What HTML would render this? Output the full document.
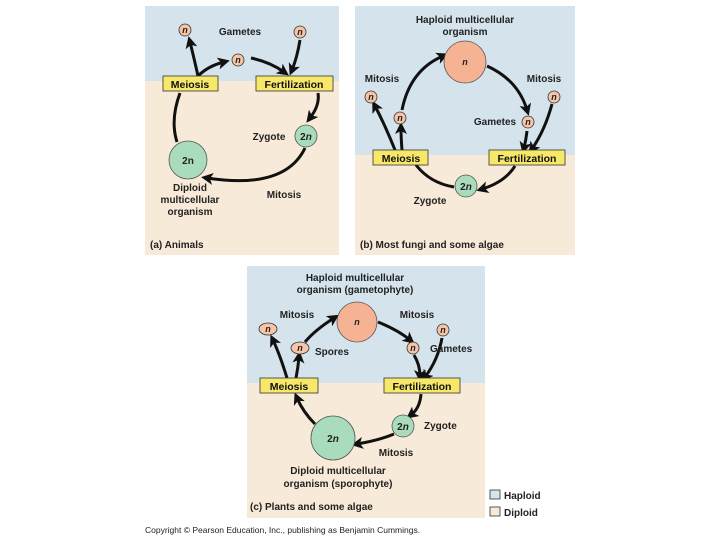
<!DOCTYPE html>
<html><head><meta charset="utf-8"><style>
html,body{margin:0;padding:0;background:#fff;width:720px;height:540px;overflow:hidden}
text{font-family:"Liberation Sans",sans-serif;font-weight:bold;font-size:10px;fill:#222}
.n{font-style:italic;font-size:9px}
.box{fill:#f7e86a;stroke:#333;stroke-width:0.8}
.bt{font-size:10.5px;fill:#111}
.arc{fill:none;stroke:#111;stroke-width:3}
.sm{fill:#f6c4a6;stroke:#333;stroke-width:0.8}
.big{fill:#f6b393;stroke:#555;stroke-width:0.8}
.g{fill:#a9dcbc;stroke:#555;stroke-width:0.8}
.reg{font-weight:normal}
</style></head><body>
<svg width="720" height="540" viewBox="0 0 720 540" xmlns="http://www.w3.org/2000/svg">
<defs><marker id="a" markerWidth="4" markerHeight="4" refX="2" refY="2" orient="auto" markerUnits="strokeWidth"><path d="M0,0 L4,2 L0,4 L1,2 z" fill="#111"/></marker></defs>
<!-- panel a -->
<rect x="145" y="6" width="194" height="249" fill="#f7ead8"/>
<rect x="145" y="6" width="194" height="75" fill="#d5e3ec"/>
<path class="arc" d="M180,93 Q170,120 177,142"/>
<path class="arc" d="M305,148 Q285,190 207,178" marker-end="url(#a)"/>
<path class="arc" d="M318,93 Q320,105 310,118" marker-end="url(#a)"/>
<path class="arc" d="M198,76 Q194,58 190,42" marker-end="url(#a)"/>
<path class="arc" d="M198,76 Q208,66 224,62" marker-end="url(#a)"/>
<path class="arc" d="M251,58 Q270,62 284,72" marker-end="url(#a)"/>
<path class="arc" d="M300,40 Q297,58 292,70" marker-end="url(#a)"/>
<rect class="box" x="163" y="76" width="55" height="15"/><text class="bt" x="190" y="88" text-anchor="middle">Meiosis</text>
<rect class="box" x="256" y="76" width="77" height="15"/><text class="bt" x="294" y="88" text-anchor="middle">Fertilization</text>
<circle class="sm" cx="185" cy="30" r="6"/><text class="n" x="185" y="33" text-anchor="middle">n</text>
<circle class="sm" cx="238" cy="60" r="6"/><text class="n" x="238" y="63" text-anchor="middle">n</text>
<circle class="sm" cx="300" cy="32" r="6"/><text class="n" x="300" y="35" text-anchor="middle">n</text>
<text x="240" y="35" text-anchor="middle">Gametes</text>
<circle class="g" cx="306" cy="136" r="11"/><text x="306" y="140" text-anchor="middle">2<tspan font-style="italic">n</tspan></text>
<text x="269" y="140" text-anchor="middle">Zygote</text>
<circle class="g" cx="188" cy="160" r="19"/><text x="188" y="164" text-anchor="middle">2n</text>
<text x="190" y="191" text-anchor="middle">Diploid</text>
<text x="190" y="203" text-anchor="middle">multicellular</text>
<text x="190" y="215" text-anchor="middle">organism</text>
<text x="284" y="198" text-anchor="middle">Mitosis</text>
<text x="150" y="248">(a) Animals</text>
<!-- panel b -->
<rect x="355" y="6" width="220" height="249" fill="#f7ead8"/>
<rect x="355" y="6" width="220" height="149" fill="#d5e3ec"/>
<path class="arc" d="M402,110 Q410,70 443,56" marker-end="url(#a)"/>
<path class="arc" d="M487,66 Q518,80 527,110" marker-end="url(#a)"/>
<path class="arc" d="M527,131 Q526,140 524,148" marker-end="url(#a)"/>
<path class="arc" d="M552,104 Q545,130 532,149" marker-end="url(#a)"/>
<path class="arc" d="M395,150 Q385,125 375,106" marker-end="url(#a)"/>
<path class="arc" d="M402,150 Q401,138 401,128" marker-end="url(#a)"/>
<path class="arc" d="M416,165 Q430,183 454,187"/>
<path class="arc" d="M515,166 Q505,182 482,189" marker-end="url(#a)"/>
<rect class="box" x="373" y="150" width="55" height="15"/><text class="bt" x="401" y="162" text-anchor="middle">Meiosis</text>
<rect class="box" x="489" y="150" width="76" height="15"/><text class="bt" x="527" y="162" text-anchor="middle">Fertilization</text>
<text x="465" y="23" text-anchor="middle">Haploid multicellular</text>
<text x="465" y="35" text-anchor="middle">organism</text>
<circle class="big" cx="465" cy="62" r="21"/><text class="n" x="465" y="65" text-anchor="middle">n</text>
<text x="382" y="82" text-anchor="middle">Mitosis</text>
<text x="544" y="82" text-anchor="middle">Mitosis</text>
<circle class="sm" cx="371" cy="97" r="6"/><text class="n" x="371" y="100" text-anchor="middle">n</text>
<circle class="sm" cx="400" cy="118" r="6"/><text class="n" x="400" y="121" text-anchor="middle">n</text>
<circle class="sm" cx="528" cy="122" r="6"/><text class="n" x="528" y="125" text-anchor="middle">n</text>
<circle class="sm" cx="554" cy="97" r="6"/><text class="n" x="554" y="100" text-anchor="middle">n</text>
<text x="495" y="125" text-anchor="middle">Gametes</text>
<circle class="g" cx="466" cy="186" r="11"/><text x="466" y="190" text-anchor="middle">2<tspan font-style="italic">n</tspan></text>
<text x="430" y="204" text-anchor="middle">Zygote</text>
<text x="360" y="248">(b) Most fungi and some algae</text>
<!-- panel c -->
<rect x="247" y="266" width="238" height="252" fill="#f7ead8"/>
<rect x="247" y="266" width="238" height="117" fill="#d5e3ec"/>
<path class="arc" d="M305,342 Q315,330 334,318" marker-end="url(#a)"/>
<path class="arc" d="M378,322 Q398,330 410,340" marker-end="url(#a)"/>
<path class="arc" d="M414,355 Q420,365 420,376" marker-end="url(#a)"/>
<path class="arc" d="M442,338 Q438,360 425,377" marker-end="url(#a)"/>
<path class="arc" d="M287,378 Q280,355 273,340" marker-end="url(#a)"/>
<path class="arc" d="M296,378 Q298,368 299,357" marker-end="url(#a)"/>
<path class="arc" d="M315,424 Q303,412 297,398" marker-end="url(#a)"/>
<path class="arc" d="M421,394 Q420,408 411,415" marker-end="url(#a)"/>
<path class="arc" d="M394,434 Q380,440 357,444" marker-end="url(#a)"/>
<rect class="box" x="260" y="378" width="58" height="15"/><text class="bt" x="289" y="390" text-anchor="middle">Meiosis</text>
<rect class="box" x="384" y="378" width="76" height="15"/><text class="bt" x="422" y="390" text-anchor="middle">Fertilization</text>
<text x="355" y="281" text-anchor="middle">Haploid multicellular</text>
<text x="355" y="293" text-anchor="middle" class="reg" style="font-weight:bold">organism (gametophyte)</text>
<circle class="big" cx="357" cy="322" r="20"/><text class="n" x="357" y="325" text-anchor="middle">n</text>
<text x="297" y="318" text-anchor="middle">Mitosis</text>
<text x="417" y="318" text-anchor="middle">Mitosis</text>
<ellipse class="sm" cx="268" cy="329" rx="9" ry="6"/><text class="n" x="268" y="332" text-anchor="middle">n</text>
<ellipse class="sm" cx="300" cy="348" rx="9" ry="6"/><text class="n" x="300" y="351" text-anchor="middle">n</text>
<circle class="sm" cx="413" cy="348" r="6"/><text class="n" x="413" y="351" text-anchor="middle">n</text>
<circle class="sm" cx="443" cy="330" r="6"/><text class="n" x="443" y="333" text-anchor="middle">n</text>
<text x="315" y="355">Spores</text>
<text x="430" y="352">Gametes</text>
<circle class="g" cx="403" cy="426" r="11"/><text x="403" y="430" text-anchor="middle">2<tspan font-style="italic">n</tspan></text>
<text x="424" y="429">Zygote</text>
<circle class="g" cx="333" cy="438" r="22"/><text x="333" y="442" text-anchor="middle">2<tspan font-style="italic">n</tspan></text>
<text x="396" y="456" text-anchor="middle">Mitosis</text>
<text x="338" y="474" text-anchor="middle">Diploid multicellular</text>
<text x="338" y="487" text-anchor="middle">organism (sporophyte)</text>
<text x="250" y="510">(c) Plants and some algae</text>
<rect x="490" y="490" width="10" height="9" fill="#d5e3ec" stroke="#333" stroke-width="0.8"/>
<text x="504" y="499">Haploid</text>
<rect x="490" y="507" width="10" height="9" fill="#f7ead8" stroke="#333" stroke-width="0.8"/>
<text x="504" y="516">Diploid</text>
<text x="145" y="533" class="reg" style="font-weight:normal;font-size:8.5px">Copyright © Pearson Education, Inc., publishing as Benjamin Cummings.</text>
</svg>
</body></html>
